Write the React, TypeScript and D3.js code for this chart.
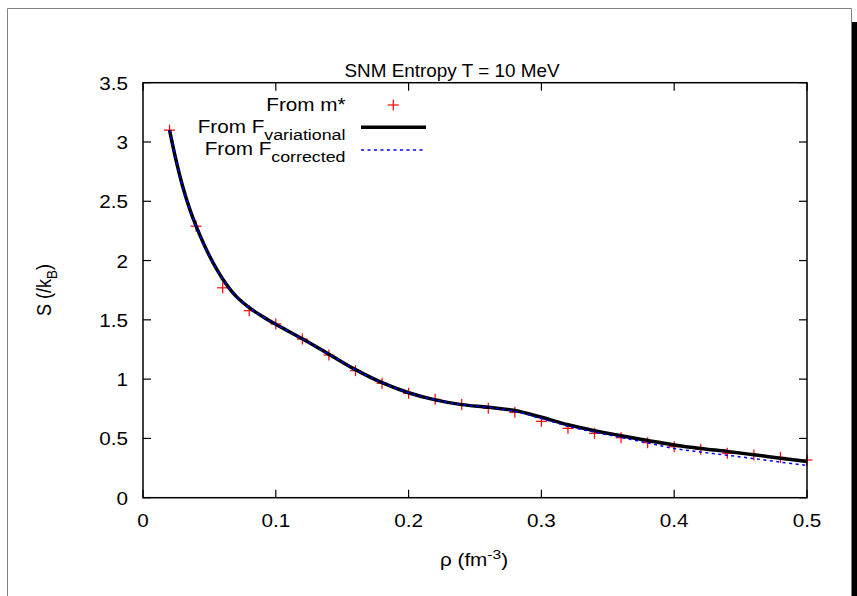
import React from "react";
import * as d3 from "d3";

const rhoPoints = [0.02, 0.04, 0.06, 0.08, 0.10, 0.12, 0.14, 0.16, 0.18, 0.20, 0.22, 0.24, 0.26, 0.28, 0.30, 0.32, 0.34, 0.36, 0.38, 0.40, 0.42, 0.44, 0.46, 0.48, 0.50];
const sFromMstar = [3.10, 2.29, 1.77, 1.577, 1.465, 1.338, 1.203, 1.071, 0.965, 0.880, 0.830, 0.787, 0.754, 0.720, 0.644, 0.585, 0.543, 0.506, 0.464, 0.430, 0.408, 0.374, 0.360, 0.340, 0.318];

const rhoCurve = [0.02, 0.025, 0.03, 0.035, 0.04, 0.05, 0.06, 0.07, 0.08, 0.09, 0.10, 0.12, 0.14, 0.16, 0.18, 0.20, 0.22, 0.24, 0.26, 0.28, 0.30, 0.32, 0.34, 0.36, 0.38, 0.40, 0.42, 0.44, 0.46, 0.48, 0.50];
const sVariational = [3.10, 2.84, 2.62, 2.44, 2.29, 2.04, 1.845, 1.70, 1.603, 1.528, 1.462, 1.34, 1.21, 1.08, 0.97, 0.885, 0.825, 0.785, 0.763, 0.735, 0.678, 0.615, 0.565, 0.523, 0.483, 0.445, 0.415, 0.39, 0.362, 0.333, 0.305];
const sCorrected = [3.10, 2.84, 2.62, 2.44, 2.29, 2.04, 1.845, 1.70, 1.603, 1.528, 1.462, 1.34, 1.21, 1.08, 0.97, 0.885, 0.825, 0.785, 0.762, 0.728, 0.668, 0.603, 0.553, 0.508, 0.462, 0.415, 0.385, 0.358, 0.33, 0.30, 0.272];

const xTicks = [0, 0.1, 0.2, 0.3, 0.4, 0.5];
const xTickLabels = ["0", "0.1", "0.2", "0.3", "0.4", "0.5"];
const yTicks = [0, 0.5, 1, 1.5, 2, 2.5, 3, 3.5];
const yTickLabels = ["0", "0.5", "1", "1.5", "2", "2.5", "3", "3.5"];

const W = 857, H = 596;
const L = 143, R = 807, T = 82.7, B = 497.7;
const SX = 1.15;
const FS = 18;
const FONT = "'Liberation Sans', Arial, Helvetica, sans-serif";

function Txt({ x, y, anchor = "middle", size = FS, sx = SX, children }: any) {
  return (
    <g transform={`translate(${x},${y}) scale(${sx},1)`}>
      <text x={0} y={0} textAnchor={anchor} fontSize={size} fontFamily={FONT} fill="#000">
        {children}
      </text>
    </g>
  );
}

export default function App() {
  const x = d3.scaleLinear().domain([0, 0.5]).range([L, R]);
  const y = d3.scaleLinear().domain([0, 3.5]).range([B, T]);
  const line = d3
    .line<[number, number]>()
    .x((d) => x(d[0]))
    .y((d) => y(d[1]))
    .curve(d3.curveCatmullRom.alpha(0.5));
  const varPath = line(rhoCurve.map((r, i) => [r, sVariational[i]]) as [number, number][]) || "";
  const corPath = line(rhoCurve.map((r, i) => [r, sCorrected[i]]) as [number, number][]) || "";
  const tickLen = 8;
  const cross = (cx: number, cy: number, k: string) => (
    <g key={k} stroke="#ff0000" strokeWidth={1.2}>
      <line x1={cx - 5.5} x2={cx + 5.5} y1={cy} y2={cy} />
      <line x1={cx} x2={cx} y1={cy - 5.5} y2={cy + 5.5} />
    </g>
  );

  return (
    <svg width={W} height={H} style={{ position: "absolute", left: 0, top: 0, background: "#fff" }}>
      <rect x={0} y={0} width={W} height={H} fill="#fff" />
      {/* outer frame */}
      <line x1={7.5} y1={8.5} x2={851.5} y2={8.5} stroke="#808080" strokeWidth={1} />
      <line x1={7.5} y1={8.5} x2={7.5} y2={H} stroke="#808080" strokeWidth={1} />
      <line x1={851.5} y1={8.5} x2={851.5} y2={H} stroke="#808080" strokeWidth={1} />
      <rect x={852} y={22} width={5} height={H - 22} fill="#000" />

      {/* title */}
      <Txt x={452} y={77} sx={1.05}>SNM Entropy T = 10 MeV</Txt>

      {/* points */}
      {rhoPoints.map((r, i) => cross(x(r), y(sFromMstar[i]), "p" + i))}

      {/* curves */}
      <path d={varPath} fill="none" stroke="#000" strokeWidth={3.5} strokeLinejoin="round" />
      <path d={corPath} fill="none" stroke="#0000ff" strokeWidth={1.5} strokeDasharray="3,3.5" />

      {/* axes box */}
      <rect x={L} y={T} width={R - L} height={B - T} fill="none" stroke="#000" strokeWidth={1.5} />
      {xTicks.map((t, i) => (
        <g key={"xt" + i} stroke="#000" strokeWidth={1.2}>
          <line x1={x(t)} x2={x(t)} y1={B} y2={B - tickLen} />
          <line x1={x(t)} x2={x(t)} y1={T} y2={T + tickLen} />
        </g>
      ))}
      {yTicks.map((t, i) => (
        <g key={"yt" + i} stroke="#000" strokeWidth={1.2}>
          <line x1={L} x2={L + tickLen} y1={y(t)} y2={y(t)} />
          <line x1={R} x2={R - tickLen} y1={y(t)} y2={y(t)} />
        </g>
      ))}
      {xTicks.map((t, i) => (
        <Txt key={"xl" + i} x={x(t)} y={B + 29}>{xTickLabels[i]}</Txt>
      ))}
      {yTicks.map((t, i) => (
        <Txt key={"yl" + i} x={128} y={y(t) + 7} anchor="end">{yTickLabels[i]}</Txt>
      ))}

      {/* axis labels */}
      <Txt x={474} y={566}>
        ρ (fm<tspan dy={-7} fontSize={13.5}>-3</tspan><tspan dy={7}>)</tspan>
      </Txt>
      <g transform={`translate(51,290) rotate(-90) scale(1,${SX})`}>
        <text x={0} y={0} textAnchor="middle" fontSize={FS} fontFamily={FONT} fill="#000">
          S (/k<tspan dy={5} fontSize={13.5}>B</tspan><tspan dy={-5}>)</tspan>
        </text>
      </g>

      {/* legend */}
      <Txt x={345.5} y={111} anchor="end">From m*</Txt>
      {cross(393.3, 105, "leg")}
      <Txt x={345.5} y={132.5} anchor="end">
        From F<tspan dy={7} fontSize={15.5}>variational</tspan>
      </Txt>
      <line x1={361} x2={426} y1={127.3} y2={127.3} stroke="#000" strokeWidth={3.5} />
      <Txt x={345.5} y={155} anchor="end">
        From F<tspan dy={7} fontSize={15.5}>corrected</tspan>
      </Txt>
      <line x1={361} x2={426} y1={150} y2={150} stroke="#0000ff" strokeWidth={1.5} strokeDasharray="3,3.5" />
    </svg>
  );
}
